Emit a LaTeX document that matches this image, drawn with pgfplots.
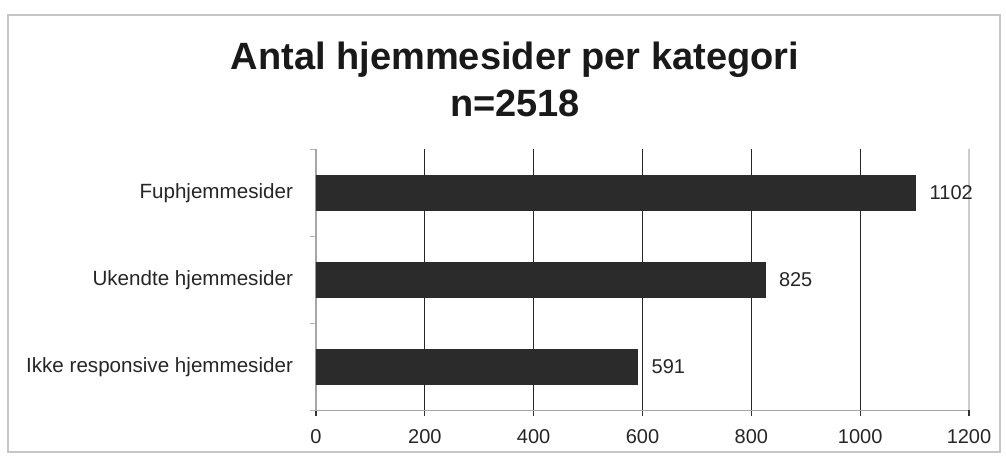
\documentclass[border=0pt]{standalone}
\usepackage{pgfplots}
\pgfplotsset{compat=1.18}
\usepackage{fontspec}
\setmainfont{Liberation Sans}
\definecolor{barfill}{HTML}{2B2B2B}
\begin{document}
\begin{tikzpicture}[x=1pt,y=1pt]
\useasboundingbox (-158,-24.25) rectangle (345,205.25);
\draw[gray!45, line width=0.9pt] (-154,-20.75) rectangle (342,197.75);
\node[anchor=base, font=\bfseries\fontsize{19}{21}\selectfont, text=black!90] at (99.5,170.5) {Antal hjemmesider per kategori};
\node[anchor=base, font=\bfseries\fontsize{19}{21}\selectfont, text=black!90] at (99.5,146.75) {n=2518};
\begin{axis}[
  at={(0,0)}, anchor=south west, scale only axis,
  width=326.5pt, height=130.5pt,
  xbar, bar width=17.5pt,
  xmin=0, xmax=1200, ymin=-0.5, ymax=2.5,
  xtick={0,200,...,1000},
  extra x ticks={1200},
  extra x tick style={major grid style={gray!40, line width=0.6pt}, major tick style={gray!40}},
  ytick={0,1,2},
  yticklabels={Ikke responsive hjemmesider, Ukendte hjemmesider, Fuphjemmesider},
  minor ytick={-0.5,0.5,1.5,2.5},
  axis x line*=bottom, axis y line*=left,
  axis line style={gray!70, line width=0.7pt},
  xmajorgrids, major grid style={black!85, line width=0.6pt},
  tick align=outside,
  major tick length=3pt, minor tick length=3pt,
  y tick style={draw=none},
  minor y tick style={draw=gray!60, line width=0.5pt},
  x tick style={black!80, line width=0.6pt},
  /pgf/number format/assume math mode=true,
  /pgf/number format/1000 sep={},
  x tick label style={font=\fontsize{10}{12}\selectfont, yshift=-3pt, text=black!85},
  y tick label style={font=\fontsize{10.3}{12}\selectfont, xshift=-5pt, text=black!85},
  nodes near coords,
  nodes near coords style={font=\fontsize{10}{12}\selectfont, anchor=west, xshift=3.5pt, text=black!85},
]
\addplot[fill=barfill, draw=barfill] coordinates {(591,0) (825,1) (1102,2)};
\end{axis}
\end{tikzpicture}
\end{document}
